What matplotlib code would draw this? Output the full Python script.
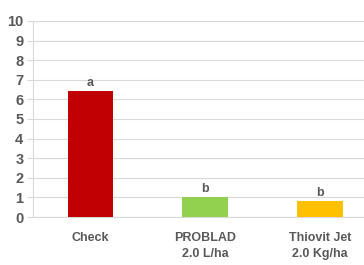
import numpy as np
import matplotlib.pyplot as plt

plt.rcParams['font.family'] = ['Liberation Sans', 'DejaVu Sans']

categories = ["Check", "PROBLAD\n2.0 L/ha", "Thiovit Jet\n2.0 Kg/ha"]
values = [6.43, 1.04, 0.83]
letters = ["a", "b", "b"]
colors = ["#C00000", "#92D050", "#FFC000"]

txt = "#595959"

fig = plt.figure(figsize=(3.64, 2.65), dpi=100)
ax = fig.add_axes([0.091, 0.181, 0.93, 0.74])

x = np.arange(len(categories))
ax.bar(x, values, width=0.4, color=colors, zorder=3)

for xi, v, l in zip(x, values, letters):
    ax.text(xi, v + 0.1, l, ha='center', va='bottom', fontsize=9, fontweight='bold', color=txt)

ax.set_ylim(0, 10)
ax.set_xlim(-0.5, 2.45)
ax.set_yticks(range(0, 11))
ax.yaxis.grid(True, color="#D9D9D9", linewidth=0.8, zorder=0)
ax.set_xticks(x)
ax.set_xticklabels(categories, linespacing=1.4)

for s in ['top', 'right']:
    ax.spines[s].set_visible(False)
ax.spines['left'].set_color("#D9D9D9")
ax.spines['bottom'].set_color("#D9D9D9")

ax.tick_params(axis='y', colors="#D9D9D9", labelcolor=txt, labelsize=10.5, length=4, pad=3)
ax.tick_params(axis='x', length=0, labelcolor=txt, labelsize=9, pad=11)
for lab in ax.get_yticklabels() + ax.get_xticklabels():
    lab.set_fontweight('bold')

fig.savefig("out.png", dpi=100, facecolor='white')
